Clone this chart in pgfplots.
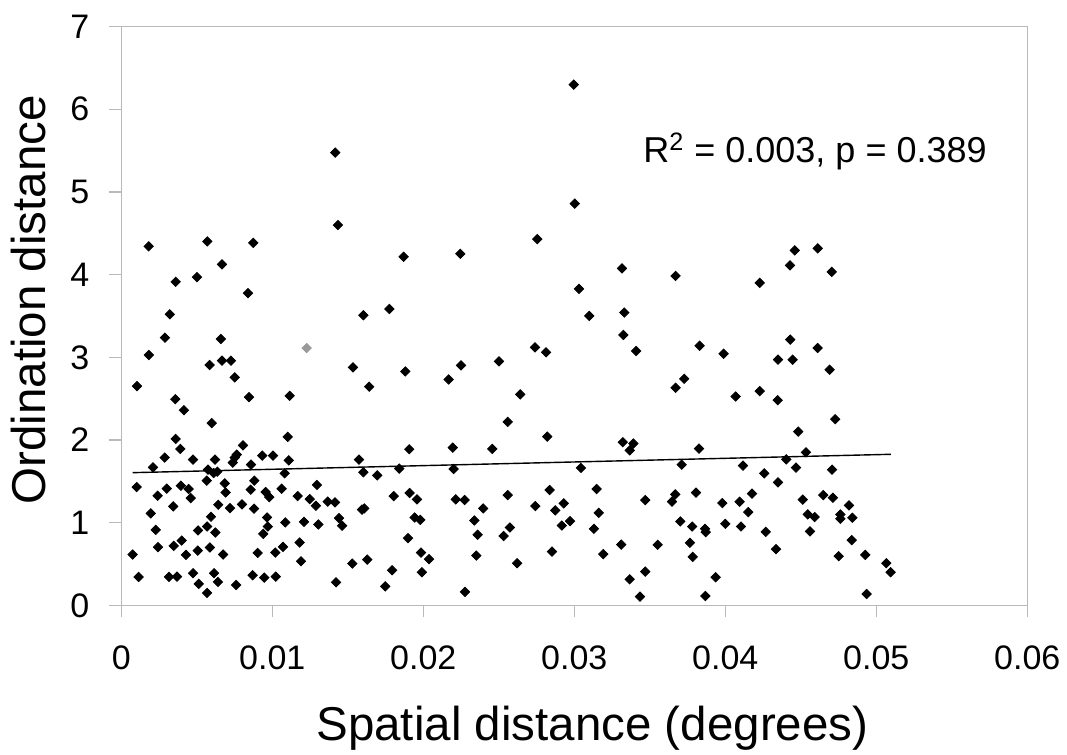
\documentclass[border=0pt]{standalone}
\usepackage{fontspec}
\setmainfont{Liberation Sans}
\usepackage{pgfplots}
\pgfplotsset{compat=1.18}
\pgfplotstableread{
x y
0.00181 4.342
0.00360 3.913
0.00321 3.521
0.00501 3.970
0.00570 4.402
0.00667 4.124
0.00839 3.776
0.00874 4.385
0.01417 5.476
0.01435 4.600
0.01603 3.509
0.01775 3.585
0.01870 4.216
0.02245 4.252
0.02996 6.297
0.03003 4.858
0.02755 4.430
0.03316 4.075
0.03031 3.828
0.03671 3.985
0.04228 3.901
0.04429 4.112
0.04460 4.293
0.04612 4.318
0.04705 4.034
0.03099 3.501
0.03331 3.542
0.00289 3.238
0.00660 3.222
0.00183 3.028
0.00585 2.907
0.00667 2.960
0.00726 2.960
0.00751 2.758
0.01534 2.879
0.01881 2.830
0.01642 2.645
0.02168 2.733
0.02250 2.903
0.00104 2.652
0.00358 2.495
0.00415 2.361
0.00846 2.519
0.01115 2.535
0.00599 2.204
0.00360 2.014
0.00391 1.893
0.01102 2.038
0.00806 1.937
0.01907 1.889
0.02195 1.909
0.00210 1.671
0.00287 1.788
0.00475 1.764
0.00621 1.764
0.00738 1.727
0.00751 1.788
0.00764 1.824
0.00859 1.703
0.00934 1.812
0.01005 1.812
0.01109 1.755
0.01574 1.764
0.00574 1.642
0.00612 1.602
0.00636 1.618
0.00566 1.509
0.01082 1.598
0.01603 1.610
0.01695 1.574
0.01841 1.655
0.02201 1.651
0.00102 1.432
0.00241 1.327
0.00301 1.412
0.00395 1.448
0.00446 1.408
0.00460 1.299
0.00344 1.198
0.00685 1.476
0.00691 1.367
0.00642 1.218
0.00720 1.178
0.00799 1.222
0.00857 1.400
0.00881 1.509
0.00879 1.170
0.00956 1.372
0.00980 1.311
0.01062 1.412
0.01168 1.323
0.01248 1.287
0.01289 1.206
0.01296 1.457
0.01367 1.255
0.01415 1.246
0.01594 1.158
0.01609 1.173
0.01804 1.323
0.01910 1.360
0.01958 1.283
0.02215 1.283
0.02274 1.275
0.02397 1.173
0.00195 1.113
0.00228 0.915
0.00594 1.073
0.00568 0.955
0.00508 0.907
0.00623 0.882
0.00965 1.064
0.00970 0.955
0.00940 0.867
0.01086 1.004
0.01210 1.012
0.01305 0.980
0.01442 1.057
0.01462 0.964
0.01943 1.064
0.01980 1.036
0.02338 1.028
0.02360 0.855
0.00243 0.705
0.00347 0.721
0.00400 0.785
0.00428 0.612
0.00506 0.664
0.00587 0.701
0.00674 0.616
0.00903 0.636
0.01020 0.640
0.01071 0.709
0.01181 0.761
0.01899 0.814
0.01985 0.640
0.02038 0.560
0.02351 0.604
0.00075 0.616
0.00115 0.345
0.00316 0.345
0.00369 0.349
0.00475 0.390
0.00513 0.261
0.00568 0.152
0.00614 0.390
0.00640 0.285
0.00760 0.248
0.00870 0.366
0.00947 0.337
0.01023 0.349
0.01190 0.535
0.01422 0.281
0.01530 0.507
0.01629 0.555
0.01748 0.232
0.01793 0.426
0.01991 0.402
0.02276 0.164
0.02501 2.952
0.02457 1.893
0.03325 3.271
0.03409 3.077
0.02740 3.121
0.02813 3.061
0.02642 2.552
0.02559 2.220
0.02821 2.042
0.03671 2.632
0.03728 2.741
0.03830 3.141
0.03989 3.044
0.04069 2.527
0.04228 2.592
0.04349 2.972
0.04430 3.214
0.04446 2.972
0.04612 3.113
0.04691 2.851
0.04347 2.482
0.04728 2.252
0.04483 2.103
0.04534 1.852
0.03321 1.974
0.03391 1.958
0.03367 1.876
0.03826 1.897
0.03044 1.663
0.03711 1.703
0.04117 1.691
0.04258 1.598
0.04349 1.489
0.04404 1.767
0.04468 1.667
0.04707 1.642
0.02559 1.335
0.02742 1.202
0.02837 1.396
0.02874 1.149
0.02930 1.234
0.02917 0.967
0.02972 1.020
0.03148 1.408
0.03162 1.121
0.03130 0.927
0.02574 0.943
0.02532 0.839
0.02852 0.652
0.02621 0.511
0.03192 0.621
0.03311 0.737
0.03367 0.317
0.03435 0.107
0.03470 0.410
0.03470 1.275
0.03552 0.733
0.03647 1.255
0.03669 1.343
0.03702 1.016
0.03781 0.955
0.03806 1.364
0.03766 0.758
0.03784 0.588
0.03866 0.927
0.03870 0.887
0.03868 0.115
0.03936 0.342
0.03980 1.239
0.04000 0.988
0.04095 1.255
0.04104 0.955
0.04152 1.130
0.04177 1.352
0.04268 0.891
0.04336 0.681
0.04513 1.279
0.04546 1.101
0.04592 1.069
0.04561 0.895
0.04649 1.335
0.04713 1.303
0.04762 1.101
0.04762 1.048
0.04819 1.210
0.04841 1.061
0.04837 0.790
0.04751 0.596
0.04927 0.612
0.04936 0.139
0.05066 0.511
0.05095 0.402
}\pts
\begin{document}
\begin{tikzpicture}
\useasboundingbox (-60.65pt,-74.75pt) rectangle (472.85pt,302.75pt);
\begin{axis}[
  at={(0,0)}, anchor=south west,
  scale only axis, width=453pt, height=289.5pt,
  xmin=0, xmax=0.06, ymin=0, ymax=7,
  xtick={0,0.01,0.02,0.03,0.04,0.05,0.06},
  ytick={0,1,2,3,4,5,6,7},
  scaled x ticks=false,
  /pgf/number format/assume math mode=true,
  xticklabel style={/pgf/number format/fixed, /pgf/number format/precision=2,
    font=\fontsize{17}{19}\selectfont, yshift=-10.5pt},
  yticklabel style={font=\fontsize{17}{19}\selectfont, xshift=-6.5pt},
  axis line style={draw=gray!55, line width=0.7pt},
  tick style={draw=gray!55, line width=0.7pt},
  major tick length=6pt, tick align=outside,
  xtick pos=bottom, ytick pos=left,
  xlabel={Spatial distance (degrees)},
  ylabel={Ordination distance},
  xlabel style={font=\fontsize{23.75}{26}\selectfont, at={(axis description cs:0.52,-0.212)}, anchor=center},
  ylabel style={font=\fontsize{23.75}{26}\selectfont, at={(axis description cs:-0.102,0.528)}, anchor=center},
]
\addplot[only marks, mark=square*, mark size=1.65pt, mark options={rotate=45, fill=black, draw=black}] table[x=x,y=y]{\pts};
\addplot[only marks, mark=square*, mark size=1.65pt, mark options={rotate=45, fill=gray!80, draw=gray!80}] coordinates {(0.01228,3.113)};
\addplot[black, line width=0.7pt] coordinates {(0.00075,1.606) (0.05097,1.828)};
\node[anchor=base west, font=\fontsize{18}{20}\selectfont, inner sep=0pt] at (axis cs:0.03455,5.352) {R\textsuperscript{2} = 0.003, p = 0.389};
\end{axis}
\end{tikzpicture}
\end{document}
